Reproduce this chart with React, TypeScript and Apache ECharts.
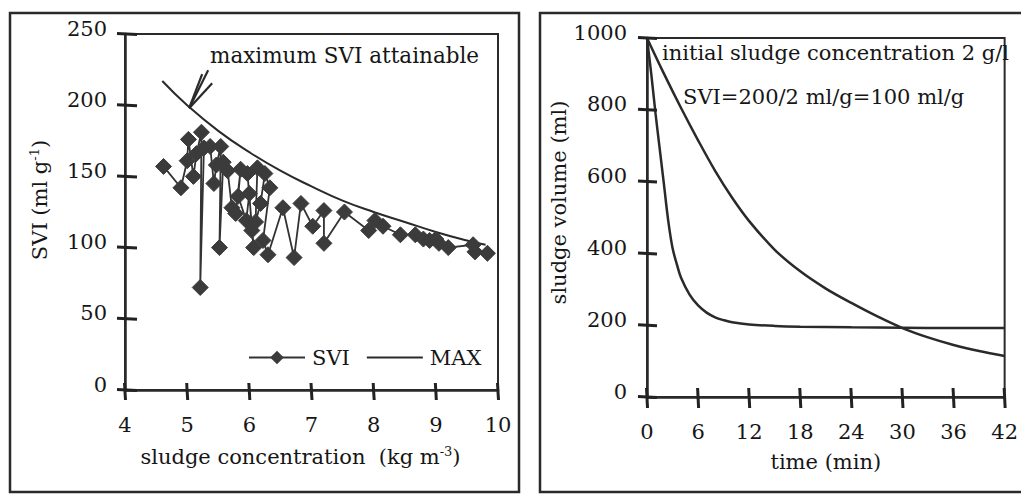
import React, { useEffect, useRef } from "react";
import * as echarts from "echarts";

const FONT = "DejaVu Serif";
const DARK = "#2a2a2a";
const TEXT = "#161616";

// Left panel: SVI vs sludge concentration
const sviX = [4.62, 4.9, 5.0, 5.02, 5.1, 5.15, 5.23, 5.21, 5.27, 5.37, 5.43, 5.47, 5.54, 5.52, 5.58, 5.65, 5.72, 5.78, 5.86, 5.82, 5.95, 6.0, 6.04, 6.07, 5.97, 6.13, 6.1, 6.18, 6.25, 6.33, 6.22, 6.3, 6.54, 6.72, 6.83, 7.02, 7.2, 7.2, 7.53, 7.92, 8.02, 8.15, 8.43, 8.67, 8.8, 8.9, 9.0, 9.05, 9.2, 9.6, 9.63, 9.83];
const sviY = [157, 142, 161, 176, 150, 166, 181, 72, 170, 171, 145, 158, 171, 100, 160, 154, 128, 124, 155, 136, 119, 138, 112, 100, 152, 156, 118, 131, 152, 142, 105, 95, 128, 93, 131, 115, 126, 103, 125, 112, 119, 115, 109, 109, 106, 105, 106, 103, 100, 102, 97, 96];
const maxX = [4.6, 5.0, 5.5, 6.0, 6.5, 7.0, 7.5, 8.0, 8.5, 9.0, 9.5, 9.8];
const maxY = [217, 200, 182, 167, 154, 143, 133, 125, 118, 111, 105, 102];
const leftXTicks = { min: 4, max: 10, interval: 1 };
const leftYTicks = { min: 0, max: 250, interval: 50 };
const leftXTickVals = [4, 5, 6, 7, 8, 9, 10];
const leftYTickVals = [0, 50, 100, 150, 200, 250];

// Right panel: sludge volume vs time
const fastT = [0, 0.5, 1, 1.5, 2, 2.5, 3, 3.5, 4, 5, 6, 7, 8, 9, 10, 12, 15, 18, 24, 30, 36, 42];
const fastV = [1000, 900, 790, 690, 590, 490, 415, 370, 332, 285, 255, 235, 222, 214, 208, 202, 198, 196, 194, 193, 192, 192];
const slowT = [0, 2, 4, 6, 8, 10, 12, 15, 18, 21, 24, 27, 30, 33, 36, 39, 42];
const slowV = [1000, 900, 805, 715, 630, 555, 490, 410, 350, 302, 262, 225, 192, 166, 145, 128, 114];
const rightXTicks = { min: 0, max: 42, interval: 6 };
const rightYTicks = { min: 0, max: 1000, interval: 200 };
const rightXTickVals = [0, 6, 12, 18, 24, 30, 36, 42];
const rightYTickVals = [0, 200, 400, 600, 800, 1000];

const zip = (a: number[], b: number[]) => a.map((v, i) => [v, b[i]]);

const labelStyle = { fontSize: 21, color: TEXT, fontFamily: FONT };

function mainAxis(grid: number, ticks: any, extra: any) {
  return {
    type: "value",
    gridIndex: grid,
    ...ticks,
    axisLine: { show: true, onZero: false, lineStyle: { color: DARK, width: 2.5 } },
    axisTick: { show: false },
    splitLine: { show: false },
    nameLocation: "middle",
    ...extra,
  };
}

export default function App() {
  const ref = useRef<HTMLDivElement>(null);
  useEffect(() => {
    if (!ref.current) return;
    const chart = echarts.init(ref.current, null, { renderer: "svg" });
    const richName = {
      a: { fontSize: 21, fontFamily: FONT, color: TEXT },
      s: { fontSize: 13, fontFamily: FONT, color: TEXT, verticalAlign: "top", padding: [0, 0, 10, 0] },
    };
    const yLabel = (margin: number) => ({
      margin,
      formatter: (v: number) => "{v|" + String(v) + "}",
      rich: { v: { ...labelStyle, padding: [0, 0, 11, 0] } },
    });
    const option: any = {
      animation: false,
      backgroundColor: "#fff",
      textStyle: { fontFamily: FONT, color: TEXT },
      grid: [
        { left: 125, top: 34, width: 373, height: 356, show: true, borderColor: DARK, borderWidth: 2 },
        { left: 647, top: 38, width: 361, height: 359, show: true, borderColor: DARK, borderWidth: 2 },
      ],
      xAxis: [
        mainAxis(0, leftXTicks, {
          position: "bottom",
          axisLabel: { ...labelStyle, margin: 24 },
          name: "{a|sludge concentration  (kg m}{s|-3}{a|)}",
          nameGap: 55,
          nameTextStyle: { rich: richName, padding: [0, 22, 0, 0] },
        }),
        mainAxis(1, rightXTicks, {
          position: "bottom",
          axisLabel: { ...labelStyle, margin: 24 },
          name: "time (min)",
          nameGap: 54,
          nameTextStyle: { ...labelStyle },
        }),
      ],
      yAxis: [
        mainAxis(0, leftYTicks, {
          position: "left",
          axisLabel: yLabel(18),
          name: "{a|SVI (ml g}{s|-1}{a|)}",
          nameGap: 74,
          nameTextStyle: { rich: richName, padding: [0, 0, 0, 24] },
        }),
        mainAxis(1, rightYTicks, {
          position: "left",
          axisLabel: yLabel(20),
          name: "sludge volume (ml)",
          nameGap: 70,
          nameTextStyle: { ...labelStyle, padding: [0, 0, 0, 30] },
        }),
      ],
      legend: {
        data: [{ name: "SVI" }, { name: "MAX", itemStyle: { opacity: 0 } }],
        left: 243,
        top: 342,
        itemWidth: 56,
        itemHeight: 17,
        itemGap: 16,
        textStyle: { ...labelStyle, padding: [0, 0, 0, 2] },
      },
      series: [
        {
          name: "SVI",
          type: "line",
          xAxisIndex: 0,
          yAxisIndex: 0,
          data: zip(sviX, sviY),
          symbol: "diamond",
          symbolSize: 16,
          showSymbol: true,
          lineStyle: { color: "#333", width: 1.8 },
          itemStyle: { color: "#3b3b3b", borderColor: "#3b3b3b" },
          z: 3,
        },
        {
          name: "MAX",
          type: "line",
          xAxisIndex: 0,
          yAxisIndex: 0,
          data: zip(maxX, maxY),
          smooth: true,
          symbol: "none",
          lineStyle: { color: DARK, width: 2 },
          itemStyle: { color: DARK },
          z: 2,
        },
        {
          name: "fast",
          type: "line",
          xAxisIndex: 1,
          yAxisIndex: 1,
          data: zip(fastT, fastV),
          smooth: 0.35,
          symbol: "none",
          lineStyle: { color: DARK, width: 2.5 },
        },
        {
          name: "slow",
          type: "line",
          xAxisIndex: 1,
          yAxisIndex: 1,
          data: zip(slowT, slowV),
          smooth: 0.35,
          symbol: "none",
          lineStyle: { color: DARK, width: 2.5 },
        },
      ],
    };
    chart.setOption(option);

    // crossing tick marks, positioned through the axis scales
    const tickStyle = { stroke: "#222", lineWidth: 3 };
    const els: any[] = [];
    const addX = (grid: number, vals: number[], y0: number, inside: number, outside: number, key: string) => {
      vals.forEach((v, i) => {
        const p = chart.convertToPixel({ gridIndex: grid }, [v, y0]) as number[];
        els.push({ type: "line", id: key + i, z: 20, shape: { x1: p[0] - 0.5, y1: p[1] - inside, x2: p[0] + 0.5, y2: p[1] + outside }, style: tickStyle });
      });
    };
    const addY = (grid: number, vals: number[], x0: number, inside: number, outside: number, key: string) => {
      vals.forEach((v, i) => {
        const p = chart.convertToPixel({ gridIndex: grid }, [x0, v]) as number[];
        els.push({ type: "line", id: key + i, z: 20, shape: { x1: p[0] - outside, y1: p[1] - 0.5, x2: p[0] + inside, y2: p[1] + 0.5 }, style: tickStyle });
      });
    };
    addX(0, leftXTickVals, leftYTicks.min, 7, 10, "lx");
    addY(0, leftYTickVals, leftXTicks.min, 12, 8, "ly");
    addX(1, rightXTickVals, rightYTicks.min, 9, 11, "rx");
    addY(1, rightYTickVals, rightXTicks.min, 10, 9, "ry");

    const tip = chart.convertToPixel({ gridIndex: 0 }, [5, 200]) as number[];
    const tx = tip[0] + 2;
    const ty = tip[1] + 3;
    const arrowStyle = { stroke: DARK, lineWidth: 2.2 };
    chart.setOption({
      graphic: [
        { type: "rect", id: "f1", shape: { x: 10, y: 13, width: 509, height: 479 }, style: { fill: "none", stroke: DARK, lineWidth: 2.5 }, silent: true },
        { type: "rect", id: "f2", shape: { x: 540, y: 13, width: 500, height: 479 }, style: { fill: "none", stroke: DARK, lineWidth: 2.5 }, silent: true },
        { type: "text", id: "t1", x: 210, y: 55, style: { text: "maximum SVI attainable", font: `21.5px "${FONT}"`, fill: TEXT, verticalAlign: "middle" } },
        { type: "line", id: "a1", shape: { x1: tx, y1: ty, x2: tx + 19, y2: ty - 38 }, style: arrowStyle },
        { type: "line", id: "a2", shape: { x1: tx, y1: ty, x2: tx + 13, y2: ty - 34 }, style: arrowStyle },
        { type: "line", id: "a3", shape: { x1: tx, y1: ty, x2: tx + 23, y2: ty - 25 }, style: arrowStyle },
        { type: "text", id: "t2", x: 662, y: 53, style: { text: "initial sludge concentration 2 g/l", font: `21px "${FONT}"`, fill: TEXT, verticalAlign: "middle" } },
        { type: "text", id: "t3", x: 683, y: 97, style: { text: "SVI=200/2 ml/g=100 ml/g", font: `21px "${FONT}"`, fill: TEXT, verticalAlign: "middle" } },
        ...els,
      ],
    });
    return () => chart.dispose();
  }, []);
  return (
    <div
      ref={ref}
      style={{ position: "absolute", left: 0, top: 0, width: 1021, height: 494, background: "#fff" }}
    />
  );
}
